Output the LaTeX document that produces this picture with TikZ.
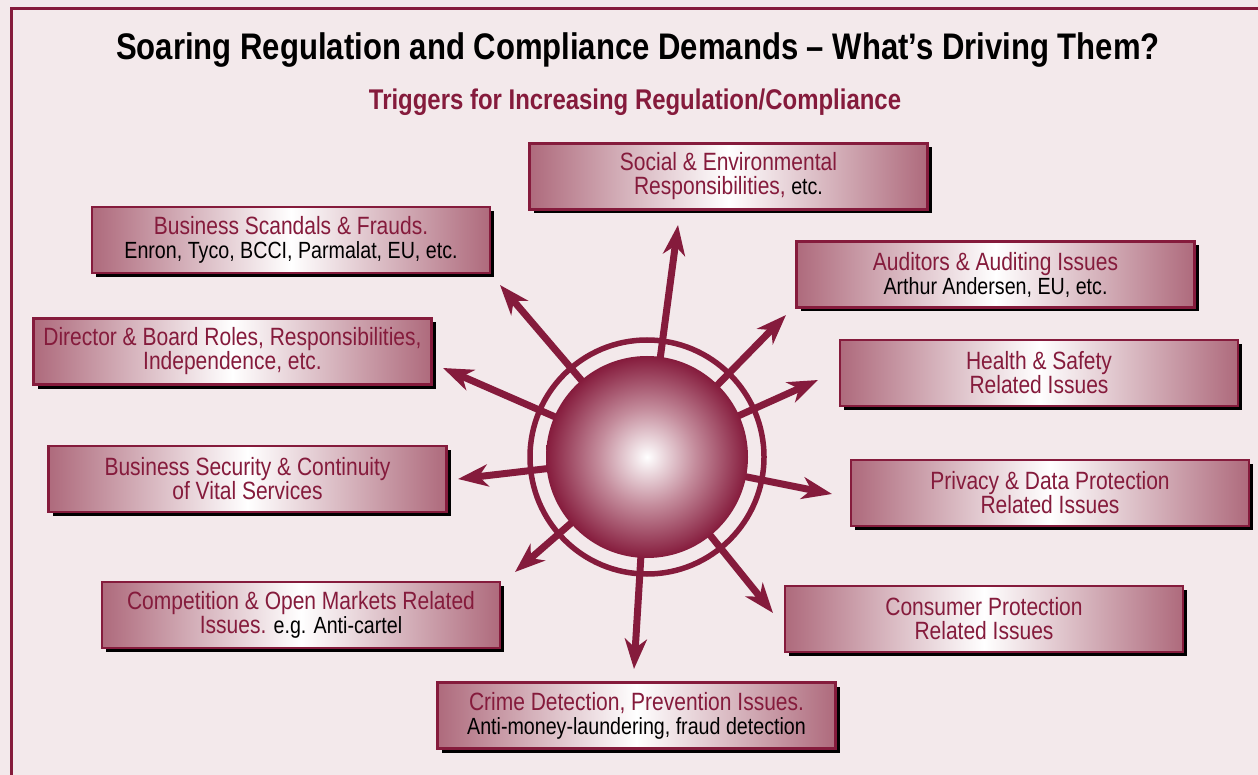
\documentclass[tikz,border=0pt]{standalone}
\usepackage{fontspec}
\setmainfont{Liberation Sans}[FakeStretch=0.84]
\usetikzlibrary{arrows.meta,shadows}
\definecolor{maroon}{RGB}{133,27,60}
\definecolor{bgpink}{RGB}{243,233,235}
\definecolor{boxedge}{RGB}{174,106,124}
\definecolor{spheremid}{RGB}{196,140,156}
\pgfdeclarehorizontalshading{boxshade}{100bp}{color(0bp)=(boxedge); color(25bp)=(boxedge); color(50bp)=(white); color(75bp)=(boxedge); color(100bp)=(boxedge)}
\pgfdeclareradialshading{sphereshade}{\pgfpoint{0bp}{0bp}}{color(0bp)=(white); color(12bp)=(spheremid); color(25bp)=(maroon); color(50bp)=(maroon)}
\tikzset{
  trig/.style={draw=maroon, line width=2.5pt, shading=boxshade, minimum width=398pt, minimum height=66pt,
    align=center, inner sep=0pt, font=\fontsize{23.4}{24}\selectfont,
    drop shadow={shadow xshift=4pt, shadow yshift=-4pt, fill=black, opacity=1}},
  ray/.style={draw=maroon, line width=7pt, -{Stealth[length=30pt, width=22pt, inset=9pt]}}
}
\newcommand{\mr}[1]{{\fontsize{25}{24}\selectfont\textcolor{maroon}{#1}}}
\begin{document}
\begin{tikzpicture}[x=1pt,y=-1pt]
\useasboundingbox (0,0) rectangle (1258,775);
\fill[bgpink] (0,0) rectangle (1258,775);
\draw[maroon, line width=3pt] (11.5,8.5) rectangle (1270,790);
\node[font=\fontsize{37}{40}\bfseries\selectfont] (title) at (638,50) {Soaring Regulation and Compliance Demands – What’s Driving Them?};
\node[font=\fontsize{28.5}{30}\bfseries\selectfont, text=maroon] (sub) at (635,102) {Triggers for Increasing Regulation/Compliance};
% center
\coordinate (c0) at (647,457);
\coordinate (t1) at (678,225);
\coordinate (t2) at (500,285);
\coordinate (t3) at (786,315);
\coordinate (t4) at (443,368);
\coordinate (t5) at (818,380);
\coordinate (t6) at (458,479);
\coordinate (t7) at (832,494);
\coordinate (t8) at (515,572);
\coordinate (t9) at (773,613);
\coordinate (t10) at (634,669);
\foreach \t in {t1,t2,t3,t4,t5,t6,t7,t8,t9,t10} \draw[ray] (c0) -- (\t);
\draw[maroon, line width=5.5pt] (c0) circle (117);
\node[circle, minimum size=202pt, inner sep=0pt, shading=sphereshade] (c) at (c0) {};
% boxes
\node[trig] (b1) at (728.5,176.5) {\mr{Social \& Environmental}\\\mr{Responsibilities,} etc.};
\node[trig] (b2) at (291,240) {\mr{Business Scandals \& Frauds.}\\Enron, Tyco, BCCI, Parmalat, EU, etc.};
\node[trig] (b3) at (995.5,274.5) {\mr{Auditors \& Auditing Issues}\\Arthur Andersen, EU, etc.};
\node[trig] (b4) at (232.5,351.5) {\mr{Director \& Board Roles, Responsibilities,}\\\mr{Independence, etc.}};
\node[trig] (b5) at (1039,373) {\mr{Health \& Safety}\\\mr{Related Issues}};
\node[trig] (b6) at (247.5,479) {\mr{Business Security \& Continuity}\\\mr{of Vital Services}};
\node[trig] (b7) at (1050,493) {\mr{Privacy \& Data Protection}\\\mr{Related Issues}};
\node[trig] (b8) at (301,615) {\mr{Competition \& Open Markets Related}\\\mr{Issues.} e.g. Anti-cartel};
\node[trig] (b9) at (984,619) {\mr{Consumer Protection}\\\mr{Related Issues}};
\node[trig] (b10) at (636.5,715.5) {\mr{Crime Detection, Prevention Issues.}\\Anti-money-laundering, fraud detection};
\end{tikzpicture}
\end{document}
